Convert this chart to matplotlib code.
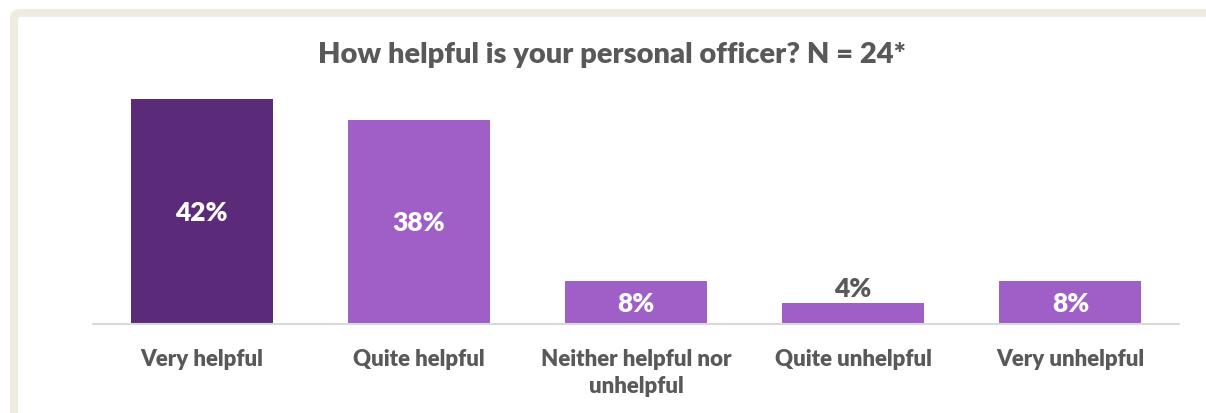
import matplotlib.pyplot as plt
from matplotlib.patches import FancyBboxPatch
from matplotlib.transforms import IdentityTransform

# survey results
categories = ["Very helpful", "Quite helpful", "Neither helpful nor\nunhelpful",
              "Quite unhelpful", "Very unhelpful"]
percent = [42, 38, 8, 4, 8]
bar_colors = ["#5B2A79", "#A05FC6", "#A05FC6", "#A05FC6", "#A05FC6"]

grey = "#595959"
plt.rcParams['font.family'] = ['Lato', 'DejaVu Sans']

W, H = 1206, 414
fig = plt.figure(figsize=(W / 100, H / 100), dpi=100)

# beige frame around the chart area
frame = FancyBboxPatch((14, -30), W + 40, H - 14 + 30,
                       boxstyle="round,pad=0,rounding_size=6",
                       transform=IdentityTransform(), facecolor="none",
                       edgecolor="#EEEBE0", linewidth=5.8)
fig.patches.append(frame)

ax = fig.add_axes([93 / W, (H - 325) / H, (1179 - 93) / W, 241 / H])
x = range(len(categories))
bars = ax.bar(x, percent, width=0.653, color=bar_colors)

ax.set_xlim(-0.5, len(categories) - 0.5)
ax.set_ylim(0, 45)
ax.set_yticks([])
for s in ["top", "right", "left"]:
    ax.spines[s].set_visible(False)
ax.spines["bottom"].set_color("#D9D9D9")
ax.spines["bottom"].set_linewidth(1.5)

ax.set_xticks(list(x))
ax.set_xticklabels(categories, fontsize=16, fontweight="heavy", color=grey,
                   linespacing=1.4, va="top")
ax.tick_params(axis="x", length=0, pad=17)

# value labels: inside bar in white, above small bars in grey
for b, v in zip(bars, percent):
    cx = b.get_x() + b.get_width() / 2
    if v >= 6:
        ax.text(cx, v / 2, f"{v}%", ha="center", va="center", color="white",
                fontsize=19, fontweight="heavy")
    else:
        ax.text(cx, v + 0.5, f"{v}%", ha="center", va="bottom", color=grey,
                fontsize=19, fontweight="heavy")

fig.text(612 / W, 1 - 55 / H, "How helpful is your personal officer? N = 24*",
         ha="center", va="center", fontsize=21, fontweight="heavy", color=grey)

fig.savefig("out.png", dpi=100)
